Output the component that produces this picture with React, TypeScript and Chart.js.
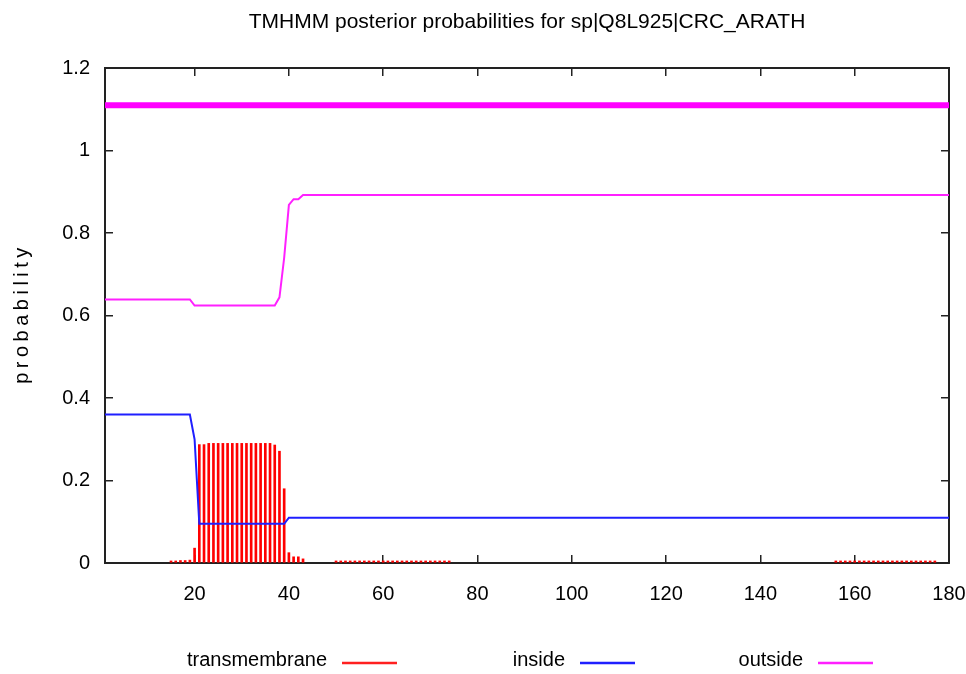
import React, { useEffect, useRef } from 'react';
import { Chart, registerables } from 'chart.js';

Chart.register(...registerables);

// ---------------- data ----------------
const TITLE = 'TMHMM posterior probabilities for sp|Q8L925|CRC_ARATH';
const Y_TITLE = 'probability';

const X_MIN = 1;
const X_MAX = 180;
const Y_MIN = 0;
const Y_MAX = 1.2;

const xTicks = [20, 40, 60, 80, 100, 120, 140, 160, 180];
const yTicks = [0, 0.2, 0.4, 0.6, 0.8, 1, 1.2];
const yTickLabels = ['0', '0.2', '0.4', '0.6', '0.8', '1', '1.2'];

// predicted topology (whole sequence outside) drawn as the thick bar at the top
const topologyX = [1, 180];
const topologyY = [1.11, 1.11];

// transmembrane posterior probability per residue (impulses)
const tmResidues = [
  15, 16, 17, 18, 19, 20, 21, 22, 23, 24, 25, 26, 27, 28, 29, 30, 31, 32, 33, 34,
  35, 36, 37, 38, 39, 40, 41, 42, 43,
  50, 51, 52, 53, 54, 55, 56, 57, 58, 59, 60, 61, 62, 63, 64, 65, 66, 67, 68, 69,
  70, 71, 72, 73, 74,
  156, 157, 158, 159, 160, 161, 162, 163, 164, 165, 166, 167, 168, 169, 170, 171,
  172, 173, 174, 175, 176, 177,
];
const tmProb = [
  0.005, 0.005, 0.006, 0.006, 0.007, 0.036, 0.287, 0.287, 0.29, 0.29, 0.29, 0.29, 0.29, 0.29, 0.29, 0.29, 0.29, 0.29, 0.29, 0.29,
  0.29, 0.29, 0.286, 0.271, 0.18, 0.025, 0.015, 0.015, 0.01,
  0.005, 0.005, 0.005, 0.005, 0.005, 0.005, 0.005, 0.005, 0.005, 0.005, 0.005, 0.005, 0.005, 0.005, 0.005, 0.005, 0.005, 0.005, 0.005, 0.005,
  0.005, 0.005, 0.005, 0.005, 0.005,
  0.005, 0.005, 0.005, 0.005, 0.005, 0.005, 0.005, 0.005, 0.005, 0.005, 0.005, 0.005, 0.005, 0.005, 0.005, 0.005,
  0.005, 0.005, 0.005, 0.005, 0.005, 0.005,
];

// inside posterior probability (breakpoints of the curve)
const insideX = [1, 19, 20, 21, 39, 40, 180];
const insideY = [0.36, 0.36, 0.3, 0.095, 0.095, 0.11, 0.11];

// outside posterior probability (breakpoints of the curve)
const outsideX = [1, 19, 20, 37, 38, 39, 40, 41, 42, 43, 180];
const outsideY = [0.639, 0.639, 0.624, 0.624, 0.644, 0.74, 0.868, 0.882, 0.882, 0.892, 0.892];

// ---------------- chart ----------------
const FONT = '"Liberation Sans", Arial, Helvetica, sans-serif';

const pts = (xs: number[], ys: number[]) => xs.map((x, i) => ({ x, y: ys[i] }));

export default function App() {
  const ref = useRef<HTMLCanvasElement>(null);

  useEffect(() => {
    const canvas = ref.current;
    if (!canvas) return;

    Chart.defaults.font.family = FONT;
    Chart.defaults.color = '#000';

    // gnuplot-style key (text left of sample line) and spaced rotated y label
    const textPlugin = {
      id: 'gnuplotText',
      afterDraw(chart: any) {
        const ctx = chart.ctx as any;
        const area = chart.chartArea;
        ctx.save();
        ctx.font = `20px ${FONT}`;
        ctx.fillStyle = '#000';

        // y axis label
        ctx.save();
        ctx.translate(22, (area.top + area.bottom) / 2);
        ctx.rotate(-Math.PI / 2);
        ctx.textAlign = 'center';
        ctx.textBaseline = 'middle';
        if ('letterSpacing' in ctx) ctx.letterSpacing = '4.5px';
        ctx.fillText(Y_TITLE, 2, 0);
        ctx.restore();

        // key
        ctx.textAlign = 'right';
        ctx.textBaseline = 'middle';
        const items = chart.data.datasets.filter((d: any) => d.label);
        items.forEach((d: any, i: number) => {
          const lineStart = 342 + i * 238;
          ctx.fillText(d.label, lineStart - 15, 660);
          ctx.strokeStyle = d.borderColor;
          ctx.lineWidth = 2.5;
          ctx.beginPath();
          ctx.moveTo(lineStart, 663);
          ctx.lineTo(lineStart + 55, 663);
          ctx.stroke();
        });
        ctx.restore();
      },
    };

    const grid = {
      display: true,
      drawOnChartArea: false,
      drawTicks: true,
      offset: false,
      tickLength: -8,
      color: '#222',
      lineWidth: 1.5,
    };
    const border = { display: true, color: '#222', width: 2 };
    const setX = (s: any) => {
      s.ticks = xTicks.map((v) => ({ value: v }));
    };
    const setY = (s: any) => {
      s.ticks = yTicks.map((v) => ({ value: v }));
    };

    const chart = new Chart(canvas, {
      type: 'line',
      data: {
        datasets: [
          {
            type: 'line',
            data: pts(topologyX, topologyY),
            borderColor: '#ff00ff',
            borderWidth: 6,
            pointRadius: 0,
            borderCapStyle: 'butt',
            order: 3,
          } as any,
          {
            type: 'bar',
            label: 'transmembrane',
            data: pts(tmResidues, tmProb),
            backgroundColor: '#ff0000',
            borderColor: '#ff2020',
            borderWidth: 0,
            barThickness: 2,
            order: 2,
          } as any,
          {
            type: 'line',
            label: 'inside',
            data: pts(insideX, insideY),
            borderColor: '#1f1fff',
            borderWidth: 2,
            pointRadius: 0,
            tension: 0,
            order: 0,
          } as any,
          {
            type: 'line',
            label: 'outside',
            data: pts(outsideX, outsideY),
            borderColor: '#ff20ff',
            borderWidth: 2,
            pointRadius: 0,
            tension: 0,
            order: 1,
          } as any,
        ],
      },
      options: {
        responsive: false,
        animation: false,
        events: [],
        layout: { padding: { left: 0, right: 17, top: 0, bottom: 0 } },
        plugins: {
          legend: { display: false },
          tooltip: { enabled: false },
          title: {
            display: true,
            text: TITLE,
            fullSize: false,
            color: '#000',
            font: { size: 21, weight: 'normal', family: FONT },
            padding: { top: 9.4, bottom: 33.4 },
          },
        },
        scales: {
          x: {
            type: 'linear',
            position: 'bottom',
            min: X_MIN,
            max: X_MAX,
            offset: false,
            grid,
            border,
            afterBuildTicks: setX,
            afterFit: (s: any) => {
              s.height = 111;
              s.paddingLeft = 0;
              s.paddingRight = 0;
            },
            ticks: {
              padding: 27,
              autoSkip: false,
              maxRotation: 0,
              color: '#000',
              font: { size: 20 },
              callback: (v: any) => String(v),
            },
          },
          x2: {
            type: 'linear',
            position: 'top',
            min: X_MIN,
            max: X_MAX,
            offset: false,
            grid,
            border,
            afterBuildTicks: setX,
            afterFit: (s: any) => {
              s.height = 0;
              s.paddingLeft = 0;
              s.paddingRight = 0;
            },
            ticks: { display: false },
          },
          y: {
            type: 'linear',
            position: 'left',
            min: Y_MIN,
            max: Y_MAX,
            grid,
            border,
            afterBuildTicks: setY,
            afterFit: (s: any) => {
              s.width = 105;
            },
            ticks: {
              padding: 23,
              color: '#000',
              font: { size: 20 },
              callback: (_v: any, i: number) => yTickLabels[i],
            },
          },
          y2: {
            type: 'linear',
            position: 'right',
            min: Y_MIN,
            max: Y_MAX,
            grid,
            border,
            afterBuildTicks: setY,
            afterFit: (s: any) => {
              s.width = 0;
            },
            ticks: { display: false },
          },
        },
      } as any,
      plugins: [textPlugin],
    });

    return () => chart.destroy();
  }, []);

  return (
    <div style={{ position: 'absolute', left: 0, top: 0, width: 966, height: 674, background: '#fff' }}>
      <canvas ref={ref} width={966} height={674} style={{ display: 'block', width: 966, height: 674 }} />
    </div>
  );
}
